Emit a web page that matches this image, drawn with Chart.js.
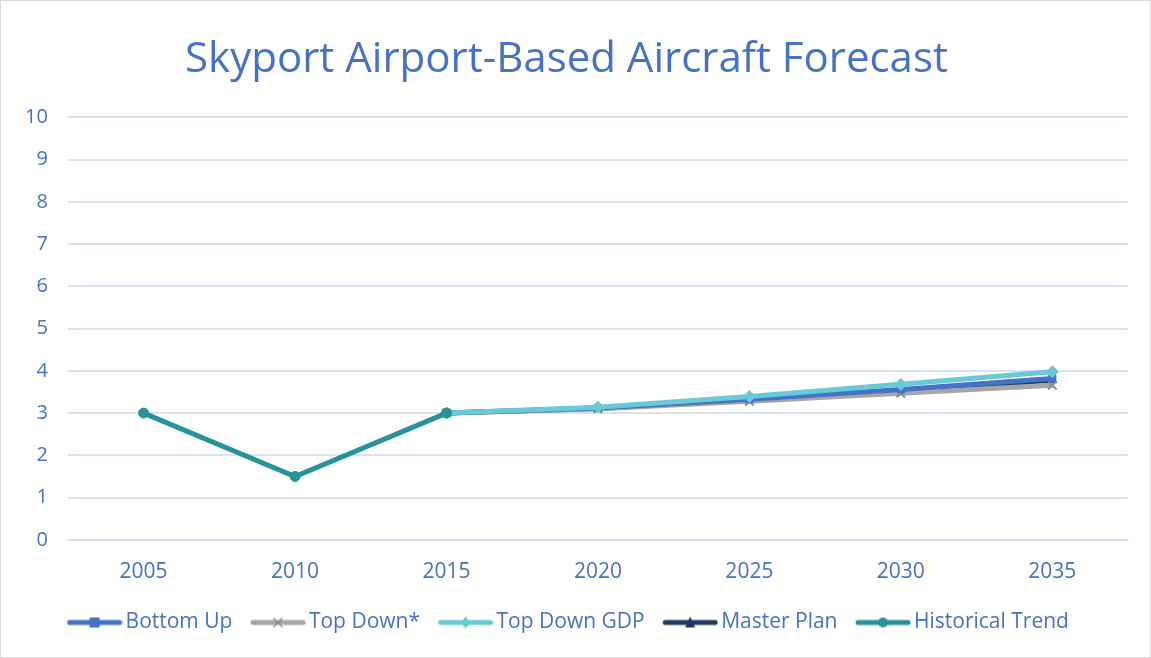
<!DOCTYPE html>
<html>
<head>
<meta charset="utf-8">
<script src="https://cdn.jsdelivr.net/npm/chart.js@4.4.1/dist/chart.umd.min.js"></script>
<style>
  html, body { margin: 0; padding: 0; background: #fff; }
  #wrap { width: 1149px; height: 656px; border: 1px solid #d9d9d9; }
</style>
</head>
<body>
<div id="wrap"><canvas id="chart" width="1149" height="656"></canvas></div>
<script>
var years = ["2005", "2010", "2015", "2020", "2025", "2030", "2035"];
var bottomUp = [null, null, 3.0, 3.12, 3.33, 3.56, 3.82];
var topDown = [null, null, 3.0, 3.1, 3.28, 3.47, 3.66];
var topDownGdp = [null, null, 3.0, 3.14, 3.39, 3.68, 3.98];
var masterPlan = [null, null, 3.0, 3.11, 3.31, 3.53, 3.78];
var historical = [3.0, 1.5, 3.0, null, null, null, null];

var blue = "#4472C4";

// little line + marker picture used as legend symbol
// (left 10px left empty so the item spacing comes out right)
function legendIcon(color, style) {
  var c = document.createElement("canvas");
  c.width = 66;
  c.height = 16;
  var g = c.getContext("2d");
  var m = 38; // marker centre
  g.strokeStyle = color;
  g.fillStyle = color;
  g.lineWidth = 5;
  g.lineCap = "round";
  g.beginPath();
  g.moveTo(13, 8);
  g.lineTo(63, 8);
  g.stroke();
  g.beginPath();
  if (style == "rect") {
    g.fillRect(m - 5, 3, 10, 10);
  } else if (style == "cross") {
    g.lineWidth = 1.5;
    g.strokeStyle = "#8c8c8c";
    g.moveTo(m - 4, 4); g.lineTo(m + 4, 12);
    g.moveTo(m + 4, 4); g.lineTo(m - 4, 12);
    g.stroke();
  } else if (style == "rectRot") {
    g.moveTo(m, 2); g.lineTo(m + 5, 8); g.lineTo(m, 14); g.lineTo(m - 5, 8);
    g.closePath(); g.fill();
  } else if (style == "triangle") {
    g.moveTo(m, 2); g.lineTo(m + 5, 13); g.lineTo(m - 5, 13);
    g.closePath(); g.fill();
  } else {
    g.arc(m, 8, 5, 0, Math.PI * 2); g.fill();
  }
  return c;
}

function series(label, data, color, style, order, radius) {
  return {
    label: label,
    data: data,
    borderColor: color,
    backgroundColor: color,
    borderWidth: 5,
    pointStyle: style,
    pointRadius: radius,
    pointBorderWidth: style == "crossRot" ? 2 : 1,
    pointBorderColor: style == "crossRot" ? "#8c8c8c" : color,
    order: order,
    spanGaps: false,
    tension: 0,
    legendIcon: legendIcon(color, style == "crossRot" ? "cross" : style)
  };
}

var ctx = document.getElementById("chart").getContext("2d");
var chart = new Chart(ctx, {
  type: "line",
  data: {
    labels: years,
    datasets: [
      series("Bottom Up", bottomUp, "#4472C4", "rect", 3, 5),
      series("Top Down*", topDown, "#A5A5A5", "crossRot", 4, 6),
      series("Top Down GDP", topDownGdp, "#67CAD8", "rectRot", 2, 6),
      series("Master Plan", masterPlan, "#203864", "triangle", 5, 5),
      series("Historical Trend", historical, "#25929C", "circle", 1, 5)
    ]
  },
  options: {
    responsive: false,
    animation: false,
    layout: { padding: { left: 4, right: 22, top: 4, bottom: 14 } },
    plugins: {
      title: {
        display: true,
        text: "Skyport Airport-Based Aircraft Forecast",
        color: blue,
        font: { family: "Open Sans", size: 42, weight: "normal" },
        padding: { top: 30, bottom: 32 }
      },
      legend: {
        position: "bottom",
        labels: {
          color: blue,
          font: { family: "Open Sans", size: 21 },
          usePointStyle: true,
          pointStyleWidth: 51,
          padding: 15,
          generateLabels: function (chart) {
            return chart.data.datasets.map(function (ds, i) {
              return {
                text: ds.label,
                fontColor: blue,
                pointStyle: ds.legendIcon,
                datasetIndex: i,
                hidden: false,
                lineWidth: 0
              };
            });
          }
        }
      },
      tooltip: { enabled: false }
    },
    scales: {
      x: {
        offset: true,
        grid: { display: false },
        border: { color: "#D9E1F2", width: 1 },
        ticks: { color: blue, font: { family: "Open Sans", size: 21 }, padding: 12 }
      },
      y: {
        min: 0,
        max: 10,
        grid: { color: "#D9E1F2", lineWidth: 2, drawTicks: false },
        border: { display: false },
        ticks: { stepSize: 1, color: blue, font: { family: "Open Sans", size: 20 }, padding: 20 }
      }
    }
  }
});
</script>
</body>
</html>
